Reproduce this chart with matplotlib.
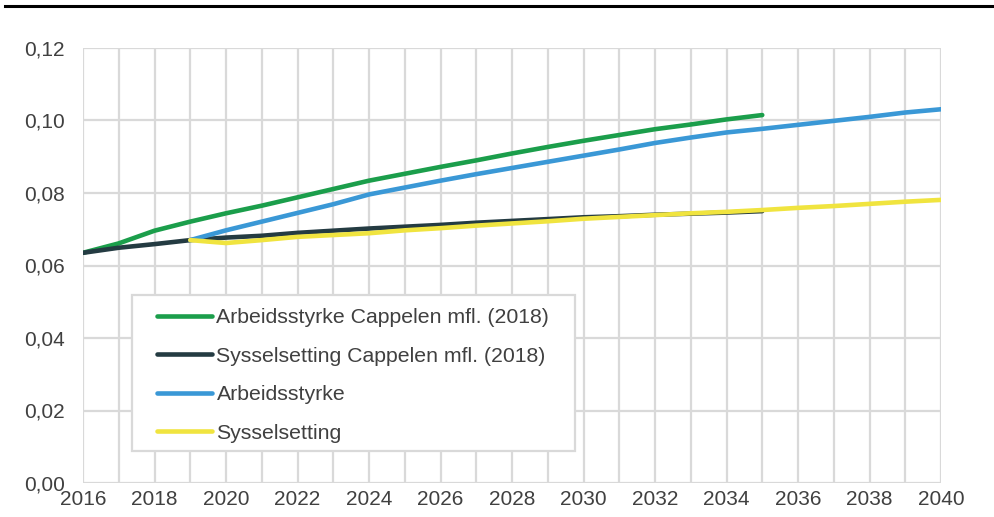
import matplotlib.pyplot as plt
from matplotlib.lines import Line2D
from matplotlib.patches import Rectangle
from matplotlib.ticker import FuncFormatter

plt.rcParams['font.family'] = ['Liberation Sans', 'DejaVu Sans']

# data
years_cap = list(range(2016, 2036))
arb_cap = [0.0635, 0.0661, 0.0696, 0.0721, 0.0744, 0.0765, 0.0788, 0.0811, 0.0834, 0.0853,
           0.0872, 0.0890, 0.0909, 0.0927, 0.0944, 0.0960, 0.0976, 0.0989, 0.1003, 0.1015]
sys_cap = [0.0635, 0.0649, 0.0659, 0.0670, 0.0677, 0.0682, 0.0690, 0.0696, 0.0702, 0.0707,
           0.0712, 0.0718, 0.0723, 0.0728, 0.0733, 0.0736, 0.0740, 0.0743, 0.0746, 0.0750]
years_new = list(range(2019, 2041))
arb_new = [0.0670, 0.0697, 0.0721, 0.0745, 0.0769, 0.0796, 0.0815, 0.0834, 0.0852, 0.0869,
           0.0886, 0.0903, 0.0920, 0.0938, 0.0953, 0.0967, 0.0977, 0.0988, 0.0999, 0.1010,
           0.1022, 0.1031]
sys_new = [0.0670, 0.0662, 0.0670, 0.0679, 0.0684, 0.0689, 0.0697, 0.0703, 0.0710, 0.0716,
           0.0722, 0.0729, 0.0734, 0.0739, 0.0744, 0.0748, 0.0753, 0.0759, 0.0764, 0.0770,
           0.0776, 0.0781]
labels = ['Arbeidsstyrke Cappelen mfl. (2018)', 'Sysselsetting Cappelen mfl. (2018)',
          'Arbeidsstyrke', 'Sysselsetting']
colors = ['#1b9e4b', '#243b42', '#3a98d6', '#f0e43f']

fig = plt.figure(figsize=(9.94, 5.17), dpi=100)
ax = fig.add_axes([83/994, 1-483/517, 858/994, 435/517])

series = [(years_cap, arb_cap), (years_cap, sys_cap), (years_new, arb_new), (years_new, sys_new)]
for (x, y), lab, c in zip(series, labels, colors):
    ax.plot(x, y, color=c, lw=3.3, label=lab, solid_capstyle='round')

ax.set_xlim(2016, 2040)
ax.set_ylim(0, 0.12)
ax.set_xticks(range(2016, 2041, 2))
ax.set_xticks(range(2016, 2041, 1), minor=True)
ax.set_yticks([0, 0.02, 0.04, 0.06, 0.08, 0.10, 0.12])
ax.yaxis.set_major_formatter(FuncFormatter(lambda v, p: f'{v:.2f}'.replace('.', ',')))
ax.grid(True, which='both', axis='x', color='#d9d9d9', lw=1.6)
ax.grid(True, which='major', axis='y', color='#d9d9d9', lw=1.6)
ax.set_axisbelow(True)
for s in ax.spines.values():
    s.set_visible(False)
ax.tick_params(which='both', length=0, labelsize=15, colors='#404040')
ax.tick_params(axis='x', pad=5)
ax.tick_params(axis='y', pad=13)

# legend box drawn separately so the padding can differ horizontally/vertically
ax.add_patch(Rectangle((0.0571, 0.0736), 0.5163, 0.3586, transform=ax.transAxes,
                       facecolor='white', edgecolor='#d9d9d9', lw=1.6, zorder=4))
leg = ax.legend(loc='upper left', bbox_to_anchor=(0.0862, 0.4023), borderaxespad=0,
                fontsize=15.3, frameon=False, handlelength=2.6, borderpad=0,
                handletextpad=0.2, labelspacing=0.92)
leg.set_zorder(5)
for t in leg.get_texts():
    t.set_color('#404040')

fig.add_artist(Line2D([5/994, 1.0], [1-6/517, 1-6/517], color='black', lw=2.2))

fig.savefig('out.png', dpi=100)
